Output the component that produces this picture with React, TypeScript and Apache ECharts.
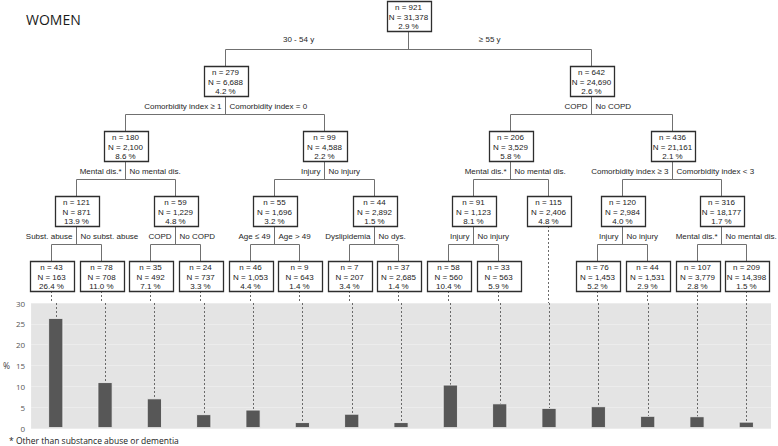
import React, { useEffect, useRef } from 'react';
import * as echarts from 'echarts';

// ---- Tree data (parent index, n cases, N persons, rate %, branch label) ----
const nodeParent = [-1, 0, 0, 1, 1, 2, 2, 3, 3, 4, 4, 5, 5, 6, 6, 7, 7, 8, 8, 9, 9, 10, 10, 11, 11, 13, 13, 14, 14];
const nodeCount = [921, 279, 642, 180, 99, 206, 436, 121, 59, 55, 44, 91, 115, 120, 316, 43, 78, 35, 24, 46, 9, 7, 37, 58, 33, 76, 44, 107, 209];
const nodeTotal = [31378, 6688, 24690, 2100, 4588, 3529, 21161, 871, 1229, 1696, 2892, 1123, 2406, 2984, 18177, 163, 708, 492, 737, 1053, 643, 207, 2685, 560, 563, 1453, 1531, 3779, 14398];
const nodeRate = [2.9, 4.2, 2.6, 8.6, 2.2, 5.8, 2.1, 13.9, 4.8, 3.2, 1.5, 8.1, 4.8, 4.0, 1.7, 26.4, 11.0, 7.1, 3.3, 4.4, 1.4, 3.4, 1.4, 10.4, 5.9, 5.2, 2.9, 2.8, 1.5];
const branchLabel = [
  '', '30 - 54 y', '≥ 55 y', 'Comorbidity index ≥ 1', 'Comorbidity index = 0', 'COPD', 'No COPD',
  'Mental dis.*', 'No mental dis.', 'Injury', 'No injury', 'Mental dis.*', 'No mental dis.',
  'Comorbidity index ≥ 3', 'Comorbidity index < 3', 'Subst. abuse', 'No subst. abuse', 'COPD', 'No COPD',
  'Age ≤ 49', 'Age > 49', 'Dyslipidemia', 'No dys.', 'Injury', 'No injury', 'Injury', 'No injury',
  'Mental dis.*', 'No mental dis.',
];
const yTicks = [0, 5, 10, 15, 20, 25, 30];
const titleText = 'WOMEN';
const footnoteText = '* Other than substance abuse or dementia';

// ---- Derived tree layout in data units ----
const children: number[][] = nodeParent.map(() => []);
nodeParent.forEach((p, i) => { if (p >= 0) children[p].push(i); });
const depth: number[] = nodeParent.map(() => 0);
const posX: number[] = nodeParent.map(() => 0);
const leafOrder: number[] = [];
function walk(i: number, d: number) {
  depth[i] = d;
  if (children[i].length === 0) {
    posX[i] = leafOrder.length;
    leafOrder.push(i);
    return;
  }
  children[i].forEach((c) => walk(c, d + 1));
  posX[i] = children[i].reduce((s, c) => s + posX[c], 0) / children[i].length;
}
walk(0, 0);

const FONT = '"Liberation Sans", Arial, sans-serif';
const BW = 44;
const BH = 30;
const fmt = (v: number) => v.toLocaleString('en-US');
const r5 = (v: number) => Math.round(v) + 0.5;

function treeRender(params: any, api: any) {
  const i = api.value(2) as number;
  const p = api.coord([api.value(0), api.value(1)]);
  const cx = r5(p[0]);
  const cy = Math.round(p[1]);
  const lineStyle = { stroke: '#707070', lineWidth: 1 };
  const els: any[] = [];
  const kids = children[i];
  if (kids.length) {
    const kc = kids.map((k) => api.coord([posX[k], depth[k]]));
    const kTop = Math.round(kc[0][1]) - BH / 2;
    const hy = r5(kTop - 17);
    els.push({ type: 'line', shape: { x1: cx, y1: cy + BH / 2, x2: cx, y2: hy }, style: lineStyle });
    els.push({ type: 'line', shape: { x1: r5(kc[0][0]), y1: hy, x2: r5(kc[kc.length - 1][0]), y2: hy }, style: lineStyle });
    kc.forEach((c: number[]) => {
      els.push({ type: 'line', shape: { x1: r5(c[0]), y1: hy, x2: r5(c[0]), y2: kTop }, style: lineStyle });
    });
    const lblStyle = { fontSize: 8, fontFamily: FONT, fill: '#262626', verticalAlign: 'middle' };
    if (depth[i] === 0) {
      els.push({ type: 'text', style: { ...lblStyle, text: branchLabel[kids[0]], x: (cx + kc[0][0]) / 2 - 18, y: hy - 10, align: 'center' } });
      els.push({ type: 'text', style: { ...lblStyle, text: branchLabel[kids[1]], x: (cx + kc[1][0]) / 2 - 10, y: hy - 10, align: 'center' } });
    } else {
      const ly = cy + BH / 2 + 10.5;
      els.push({ type: 'text', style: { ...lblStyle, text: branchLabel[kids[0]], x: cx - 4, y: ly, align: 'right' } });
      els.push({ type: 'text', style: { ...lblStyle, text: branchLabel[kids[1]], x: cx + 4, y: ly, align: 'left' } });
    }
  } else {
    els.push({
      type: 'line',
      shape: { x1: cx, y1: cy + BH / 2, x2: cx, y2: params.coordSys.y + params.coordSys.height },
      style: { stroke: '#6a6a6a', lineWidth: 1, lineDash: [2, 2] },
    });
  }
  els.push({
    type: 'rect',
    shape: { x: Math.round(cx - BW / 2) + 0.5, y: cy - BH / 2 + 0.5, width: BW, height: BH },
    style: { fill: '#ffffff', stroke: '#2e2e2e', lineWidth: 1.3 },
  });
  els.push({
    type: 'text',
    style: {
      text: `n = ${nodeCount[i]}\nN = ${fmt(nodeTotal[i])}\n${nodeRate[i].toFixed(1)} %`,
      x: cx, y: cy + 1, align: 'center', verticalAlign: 'middle',
      fontSize: 8, lineHeight: 9.4, fontFamily: FONT, fill: '#222222',
    },
  });
  return { type: 'group', children: els };
}

function dashRender(params: any, api: any) {
  const p = api.coord([api.value(0), api.value(1)]);
  const x = r5(p[0]);
  return {
    type: 'line',
    shape: { x1: x, y1: params.coordSys.y, x2: x, y2: p[1] },
    style: { stroke: '#6a6a6a', lineWidth: 1, lineDash: [2, 2] },
  };
}

export default function App() {
  const ref = useRef<HTMLDivElement>(null);
  useEffect(() => {
    if (!ref.current) return;
    const chart = echarts.init(ref.current, undefined, { renderer: 'svg' });
    const leafNames = leafOrder.map((i) => `n = ${nodeCount[i]}`);
    const leafRates = leafOrder.map((i) => nodeRate[i]);
    chart.setOption({
      animation: false,
      backgroundColor: '#ffffff',
      title: [
        { text: titleText, left: 26, top: 12, padding: 0, textStyle: { fontSize: 14, fontWeight: 'normal', fontFamily: '"Open Sans", sans-serif', color: '#1a1a1a' } },
        { text: footnoteText, left: 9, top: 435, padding: 0, textStyle: { fontSize: 8.5, lineHeight: 11, fontWeight: 'normal', fontFamily: '"Open Sans", sans-serif', color: '#222222' } },
      ],
      grid: [
        { left: 26, right: 7, top: 303, height: 125, show: true, backgroundColor: '#e4e4e4', borderWidth: 0 },
        { left: 26, right: 7, top: 0, height: 303, show: false },
      ],
      xAxis: [
        { type: 'category', gridIndex: 0, data: leafNames, axisLine: { show: false }, axisTick: { show: false }, axisLabel: { show: false } },
        { type: 'value', gridIndex: 1, min: -0.5, max: leafOrder.length - 0.5, show: false },
      ],
      yAxis: [
        {
          type: 'value', gridIndex: 0, min: yTicks[0], max: yTicks[yTicks.length - 1], interval: yTicks[1] - yTicks[0],
          name: '%', nameLocation: 'middle', nameRotate: 0, nameGap: 16,
          nameTextStyle: { fontSize: 8.5, color: '#404040', fontFamily: '"Open Sans", sans-serif' },
          axisLine: { show: false }, axisTick: { show: false },
          axisLabel: { fontSize: 8, color: '#555555', margin: 6, fontFamily: '"Open Sans", sans-serif' },
          splitLine: { lineStyle: { color: '#ececec', width: 1 } },
        },
        { type: 'value', gridIndex: 1, min: -0.25, max: 4.42, inverse: true, show: false },
      ],
      series: [
        {
          type: 'bar', xAxisIndex: 0, yAxisIndex: 0, data: leafRates, barWidth: 15,
          itemStyle: { color: '#575757', borderColor: '#f2f2f2', borderWidth: 0.8 },
        },
        {
          type: 'custom', xAxisIndex: 0, yAxisIndex: 0, clip: false, silent: true,
          data: leafRates.map((v, k) => [k, v]), renderItem: dashRender, z: 3,
        },
        {
          type: 'custom', xAxisIndex: 1, yAxisIndex: 1, clip: false, silent: true,
          data: nodeParent.map((_, i) => [posX[i], depth[i], i]), renderItem: treeRender, z: 4,
        },
      ],
    });
    return () => chart.dispose();
  }, []);
  return <div ref={ref} style={{ position: 'fixed', left: 0, top: 0, width: 778, height: 446 }} />;
}
